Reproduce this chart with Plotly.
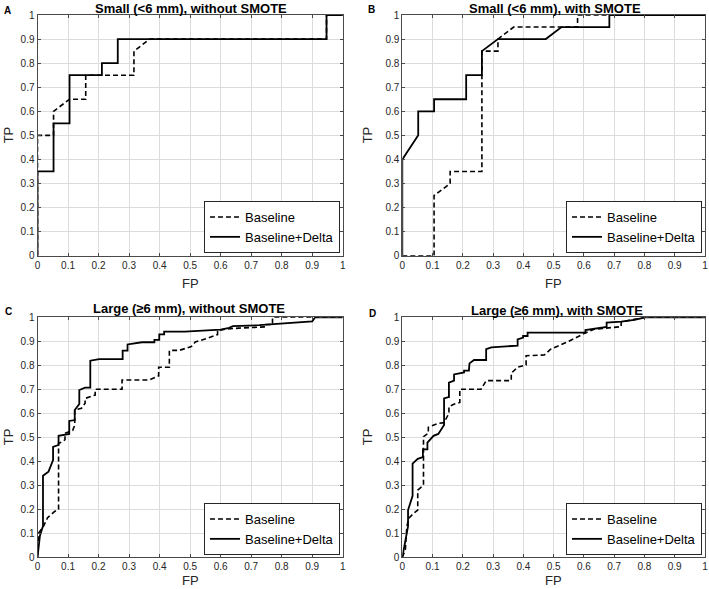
import plotly.graph_objects as go

# ---------------- data ----------------
tick_vals = [0, 0.1, 0.2, 0.3, 0.4, 0.5, 0.6, 0.7, 0.8, 0.9, 1]
tick_text = ["0", "0.1", "0.2", "0.3", "0.4", "0.5", "0.6", "0.7", "0.8", "0.9", "1"]

panel_titles = ["Small (<6 mm), without SMOTE", "Small (<6 mm), with SMOTE",
                "Large (≥6 mm), without SMOTE", "Large (≥6 mm), with SMOTE"]
panel_letters = ["A", "B", "C", "D"]
series_names = ["Baseline", "Baseline+Delta"]
x_title = "FP"
y_title = "TP"

# Panel A
A_base_fp = [0, 0, 0.0526, 0.0526, 0.105, 0.158, 0.158, 0.316, 0.316, 0.368, 0.947, 0.947, 1]
A_base_tp = [0, 0.5, 0.5, 0.6, 0.65, 0.65, 0.75, 0.75, 0.85, 0.9, 0.9, 1, 1]
A_delta_fp = [0, 0, 0.0526, 0.0526, 0.105, 0.105, 0.211, 0.211, 0.263, 0.263, 0.947, 0.947, 1]
A_delta_tp = [0, 0.35, 0.35, 0.55, 0.55, 0.75, 0.75, 0.8, 0.8, 0.9, 0.9, 1, 1]

# Panel B
B_base_fp = [0, 0.105, 0.105, 0.158, 0.158, 0.263, 0.263, 0.316, 0.316, 0.368, 0.579, 0.579, 1]
B_base_tp = [0, 0, 0.25, 0.3, 0.35, 0.35, 0.85, 0.85, 0.9, 0.95, 0.95, 1, 1]
B_delta_fp = [0, 0, 0.0526, 0.0526, 0.105, 0.105, 0.211, 0.211, 0.263, 0.263, 0.316, 0.474, 0.526, 0.684, 0.684, 1]
B_delta_tp = [0, 0.4, 0.5, 0.6, 0.6, 0.65, 0.65, 0.75, 0.75, 0.85, 0.9, 0.9, 0.95, 0.95, 1, 1]

# Panel C
C_base_fp = [0, 0.003, 0.019, 0.033, 0.055, 0.069, 0.069, 0.082, 0.09, 0.09, 0.115, 0.122, 0.122,
             0.144, 0.156, 0.156, 0.189, 0.189, 0.277, 0.277, 0.366, 0.397, 0.397, 0.432, 0.432,
             0.464, 0.504, 0.517, 0.56, 0.59, 0.59, 0.62, 0.66, 0.747, 0.747, 0.77, 0.77, 1]
C_base_tp = [0, 0.1, 0.128, 0.165, 0.19, 0.2, 0.475, 0.482, 0.49, 0.517, 0.528, 0.55, 0.614,
             0.621, 0.642, 0.662, 0.676, 0.7, 0.7, 0.739, 0.739, 0.756, 0.792, 0.792, 0.862,
             0.862, 0.878, 0.897, 0.914, 0.928, 0.945, 0.951, 0.955, 0.96, 0.97, 0.97, 1, 1]
C_delta_fp = [0, 0.008, 0.018, 0.018, 0.036, 0.051, 0.051, 0.069, 0.069, 0.104, 0.104, 0.122, 0.122,
              0.137, 0.137, 0.156, 0.173, 0.173, 0.202, 0.279, 0.279, 0.295, 0.295, 0.342, 0.383,
              0.383, 0.399, 0.399, 0.415, 0.415, 0.483, 0.52, 0.559, 0.60, 0.628, 0.64, 0.727,
              0.805, 0.9, 0.91, 1]
C_delta_tp = [0, 0.09, 0.13, 0.34, 0.357, 0.405, 0.46, 0.468, 0.506, 0.514, 0.568, 0.572, 0.614,
              0.639, 0.697, 0.707, 0.707, 0.819, 0.826, 0.826, 0.861, 0.861, 0.887, 0.896, 0.896,
              0.906, 0.906, 0.929, 0.929, 0.94, 0.94, 0.942, 0.945, 0.949, 0.956, 0.963, 0.967,
              0.975, 0.983, 1, 1]

# Panel D
D_base_fp = [0, 0.01, 0.015, 0.021, 0.037, 0.051, 0.051, 0.064, 0.07, 0.07, 0.086, 0.086, 0.119,
             0.138, 0.154, 0.154, 0.172, 0.19, 0.19, 0.26, 0.277, 0.36, 0.36, 0.381, 0.409, 0.409,
             0.469, 0.49, 0.55, 0.605, 0.634, 0.723, 0.723, 0.803, 1]
D_base_tp = [0, 0.03, 0.128, 0.162, 0.183, 0.197, 0.28, 0.294, 0.3, 0.503, 0.517, 0.542, 0.558,
             0.561, 0.6, 0.628, 0.639, 0.645, 0.70, 0.70, 0.736, 0.736, 0.767, 0.792, 0.801, 0.84,
             0.843, 0.867, 0.9, 0.935, 0.95, 0.961, 0.981, 1, 1]
D_delta_fp = [0, 0.015, 0.019, 0.019, 0.034, 0.034, 0.051, 0.068, 0.068, 0.083, 0.083, 0.103, 0.119,
              0.138, 0.138, 0.152, 0.154, 0.154, 0.168, 0.171, 0.171, 0.204, 0.204, 0.22, 0.222,
              0.237, 0.277, 0.277, 0.294, 0.381, 0.381, 0.399, 0.399, 0.414, 0.414, 0.605, 0.605,
              0.62, 0.67, 0.675, 0.675, 0.723, 0.767, 0.803, 1]
D_delta_tp = [0, 0.1, 0.13, 0.197, 0.256, 0.39, 0.41, 0.417, 0.45, 0.45, 0.478, 0.506, 0.514,
              0.551, 0.662, 0.667, 0.667, 0.728, 0.736, 0.736, 0.762, 0.77, 0.778, 0.778, 0.808,
              0.822, 0.822, 0.867, 0.875, 0.882, 0.908, 0.915, 0.922, 0.922, 0.936, 0.936, 0.947,
              0.95, 0.96, 0.96, 0.978, 0.982, 0.989, 1, 1]

panels_data = [
    (A_base_fp, A_base_tp, A_delta_fp, A_delta_tp),
    (B_base_fp, B_base_tp, B_delta_fp, B_delta_tp),
    (C_base_fp, C_base_tp, C_delta_fp, C_delta_tp),
    (D_base_fp, D_base_tp, D_delta_fp, D_delta_tp),
]

# ---------------- layout geometry (pixels) ----------------
W, H = 709, 589
FONT = "Liberation Sans, Arial, sans-serif"
INK = "#262626"
BOX = "#4a4a4a"
px_x = [(37.5, 342.7), (402.3, 705.0), (37.5, 342.7), (402.3, 705.0)]
px_y = [(15.0, 255.7), (15.0, 255.7), (317.3, 557.3), (317.3, 557.3)]
legend_px = [(340, 253), (702, 253), (340, 555), (702, 555)]
title_px = [(191, 8.5), (555, 8.5), (189, 308.5), (556.5, 310.5)]
letter_px = [(7, 10), (371, 9), (8, 311), (372, 313)]
xlab_y_px = [283, 283, 580.5, 580.5]
ylab_x_px = 8
ylab_x_px_right = 367


def fx(p):
    return p / W


def fy(p):
    return 1 - p / H


fig = go.Figure()
layout = dict(
    width=W, height=H,
    margin=dict(l=0, r=0, t=0, b=0, autoexpand=False),
    paper_bgcolor="white", plot_bgcolor="white",
    font=dict(family=FONT, color=INK, size=10),
    annotations=[],
)

for i, (bfp, btp, dfp, dtp) in enumerate(panels_data):
    sfx = "" if i == 0 else str(i + 1)
    xa, ya = "x" + sfx, "y" + sfx
    lg = "legend" + sfx
    fig.add_trace(go.Scatter(x=bfp, y=btp, mode="lines", name=series_names[0],
                             line=dict(color="black", width=1.6, dash="5px,3px"),
                             xaxis=xa, yaxis=ya, legend=lg, hoverinfo="skip"))
    fig.add_trace(go.Scatter(x=dfp, y=dtp, mode="lines", name=series_names[1],
                             line=dict(color="black", width=1.8),
                             xaxis=xa, yaxis=ya, legend=lg, hoverinfo="skip"))
    axis_common = dict(
        range=[0, 1], tickvals=tick_vals, ticktext=tick_text,
        showline=True, linecolor=BOX, linewidth=1, mirror="ticks",
        ticks="inside", ticklen=3, tickcolor=BOX, tickwidth=1,
        showgrid=True, gridcolor="#dcdcdc", gridwidth=1, zeroline=False,
        tickfont=dict(family=FONT, size=10, color=INK), fixedrange=True,
        automargin=False, ticklabeloverflow="allow",
    )
    layout["xaxis" + sfx] = dict(axis_common,
                                 domain=[fx(px_x[i][0]), fx(px_x[i][1])],
                                 anchor=ya)
    layout["yaxis" + sfx] = dict(axis_common,
                                 domain=[fy(px_y[i][1]), fy(px_y[i][0])],
                                 anchor=xa)
    layout[lg] = dict(x=fx(legend_px[i][0]), y=fy(legend_px[i][1]),
                      xref="paper", yref="paper",
                      xanchor="right", yanchor="bottom",
                      bgcolor="white", bordercolor=INK, borderwidth=1,
                      font=dict(family=FONT, size=13, color="black"),
                      tracegroupgap=0, itemwidth=30)
    cx = (px_x[i][0] + px_x[i][1]) / 2
    cy = (px_y[i][0] + px_y[i][1]) / 2
    # axis titles
    layout["annotations"].append(dict(
        x=fx(cx), y=fy(xlab_y_px[i]), xref="paper", yref="paper",
        xanchor="center", yanchor="middle", showarrow=False, text=x_title,
        font=dict(family=FONT, size=13, color=INK)))
    layout["annotations"].append(dict(
        x=fx(ylab_x_px if i % 2 == 0 else ylab_x_px_right), y=fy(cy),
        xref="paper", yref="paper", textangle=-90,
        xanchor="center", yanchor="middle", showarrow=False, text=y_title,
        font=dict(family=FONT, size=13, color=INK)))
    # panel title and letter
    layout["annotations"].append(dict(
        x=fx(title_px[i][0]), y=fy(title_px[i][1]), xref="paper", yref="paper",
        xanchor="center", yanchor="middle", showarrow=False,
        text="<b>" + panel_titles[i] + "</b>",
        font=dict(family=FONT, size=13, color="black")))
    layout["annotations"].append(dict(
        x=fx(letter_px[i][0]), y=fy(letter_px[i][1]), xref="paper", yref="paper",
        xanchor="center", yanchor="middle", showarrow=False,
        text="<b>" + panel_letters[i] + "</b>",
        font=dict(family=FONT, size=10, color="black")))

fig.update_layout(**layout)
# remove the browser's default 8px page margin so the figure sits at (0, 0)
fig.write_html("out.html", config={"displayModeBar": False},
               post_script="document.body.style.margin='0';document.body.style.overflow='hidden';")
